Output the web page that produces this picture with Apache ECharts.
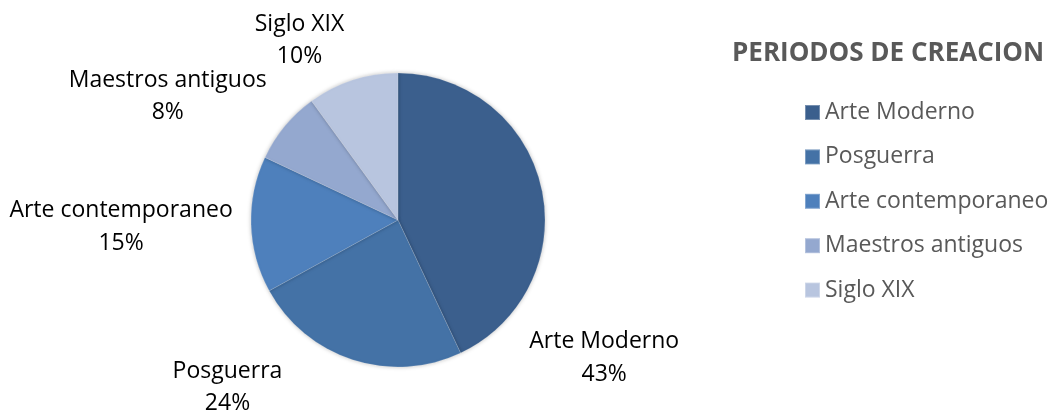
<!DOCTYPE html>
<html><head><meta charset="utf-8">
<script src="https://cdn.jsdelivr.net/npm/echarts@6/dist/echarts.min.js"></script>
<style>html,body{margin:0;padding:0;background:#fff}#c{width:1051px;height:412px}</style>
</head><body><div id="c"></div>
<script>
const categories = ['Arte Moderno', 'Posguerra', 'Arte contemporaneo', 'Maestros antiguos', 'Siglo XIX'];
const values = [43, 24, 15, 8, 10];
const colors = ['#3b5f8d', '#4472a6', '#4e80bc', '#94a8cf', '#b8c5df'];
const titleText = 'PERIODOS DE CREACION';
// label offsets (best-fit style placement) relative to default outside anchor
const labelDx = [48, -117, -120, -96, -45];
const labelDy = [172, 18, 2, -41, -30];

const FONT = 'Open Sans';
const CX = 398;
const chart = echarts.init(document.getElementById('c'));
chart.setOption({
  backgroundColor: '#fff',
  animation: false,
  title: {
    text: titleText, left: 732, top: 41, padding: 0,
    textStyle: { fontFamily: FONT, fontSize: 26, fontWeight: 'bold', color: '#595959' }
  },
  legend: {
    orient: 'vertical', left: 804, top: 101, padding: 0,
    icon: 'rect', itemWidth: 15, itemHeight: 15, itemGap: 21.4,
    textStyle: { fontFamily: FONT, fontSize: 23, color: '#595959', lineHeight: 21 },
    data: categories
  },
  series: [{
    type: 'pie',
    center: [CX, 220], radius: 147,
    startAngle: 90, clockwise: true,
    data: categories.map((n, i) => ({ name: n, value: values[i], itemStyle: { color: colors[i] } })),
    itemStyle: { borderColor: 'rgba(255,255,255,0.3)', borderWidth: 0.5, shadowBlur: 4, shadowColor: 'rgba(0,0,0,0.25)' },
    label: {
      show: true, position: 'outside',
      formatter: p => p.name + '\n' + Math.round(p.percent) + '%',
      fontFamily: FONT, fontSize: 23, lineHeight: 32.5, color: '#000'
    },
    labelLine: { show: false, length: 10, length2: 0 },
    labelLayout: function (p) {
      const r = p.labelRect;
      const i = p.dataIndex;
      const leftSide = r.x + r.width / 2 < CX;
      const ax = leftSide ? r.x + r.width : r.x;
      return { x: ax + labelDx[i], y: r.y + r.height / 2 + labelDy[i], align: 'center', verticalAlign: 'middle' };
    },
    emphasis: { disabled: true }
  }]
});
</script></body></html>
